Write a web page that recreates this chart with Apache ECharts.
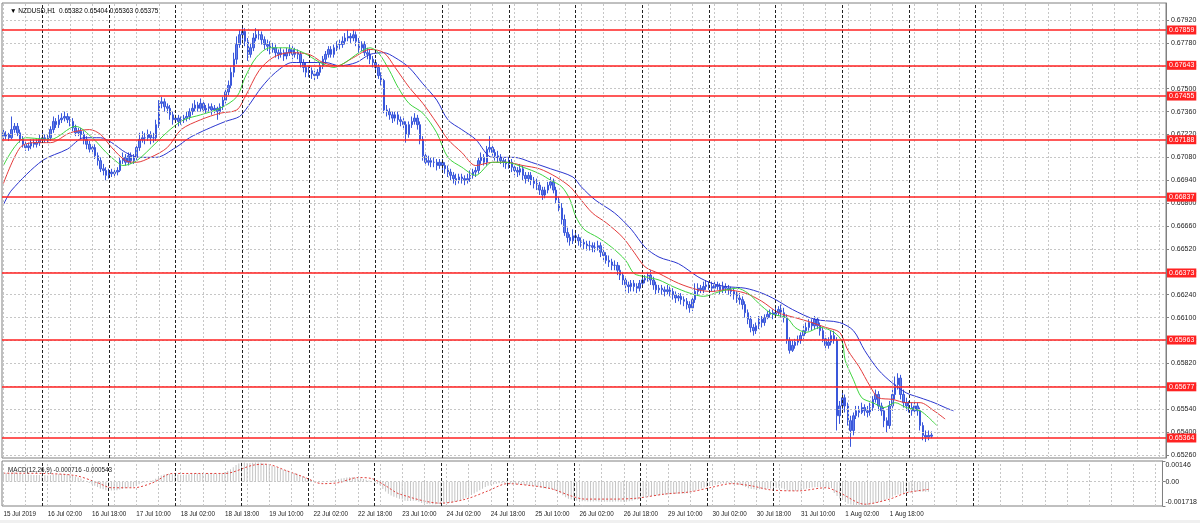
<!DOCTYPE html>
<html><head><meta charset="utf-8">
<script src="https://cdn.jsdelivr.net/npm/echarts@6/dist/echarts.min.js"></script>
<style>html,body{margin:0;padding:0;background:#fff}#c{width:1200px;height:523px}</style>
</head><body><div id="c"></div>
<script>
// ---------- data ----------
const open = [
0.6723,0.6721,0.6722,0.6720,0.6725,0.6727,0.6723,0.6719,0.6716,0.6714,0.6715,0.6717,0.6716,0.6717,0.6719,0.6720,0.6719,0.6720,0.6725,0.6730,
0.6728,0.6731,0.6732,0.6733,0.6731,0.6730,0.6726,0.6723,0.6724,0.6722,0.6719,0.6716,0.6713,0.6714,0.6709,0.6706,0.6701,0.6700,0.6697,0.6699,
0.6698,0.6699,0.6700,0.6706,0.6708,0.6705,0.6709,0.6706,0.6708,0.6714,0.6719,0.6720,0.6720,0.6722,0.6720,0.6720,0.6728,0.6741,0.6742,0.6739,
0.6738,0.6734,0.6731,0.6732,0.6730,0.6731,0.6732,0.6733,0.6736,0.6738,0.6740,0.6738,0.6741,0.6737,0.6738,0.6739,0.6737,0.6738,0.6736,0.6739,
0.6743,0.6748,0.6752,0.6760,0.6768,0.6777,0.6783,0.6785,0.6779,0.6771,0.6775,0.6781,0.6783,0.6783,0.6780,0.6777,0.6776,0.6774,0.6775,0.6772,
0.6771,0.6772,0.6770,0.6772,0.6774,0.6771,0.6772,0.6771,0.6766,0.6763,0.6760,0.6761,0.6759,0.6758,0.6760,0.6764,0.6768,0.6771,0.6774,0.6771,
0.6775,0.6777,0.6777,0.6779,0.6781,0.6782,0.6781,0.6783,0.6779,0.6775,0.6777,0.6772,0.6771,0.6768,0.6766,0.6763,0.6758,0.6755,0.6737,0.6736,
0.6734,0.6732,0.6734,0.6731,0.6730,0.6728,0.6722,0.6728,0.6730,0.6732,0.6728,0.6719,0.6709,0.6705,0.6706,0.6705,0.6705,0.6703,0.6705,0.6703,
0.6701,0.6699,0.6697,0.6695,0.6694,0.6696,0.6695,0.6694,0.6695,0.6697,0.6699,0.6700,0.6706,0.6708,0.6705,0.6713,0.6714,0.6711,0.6709,0.6708,
0.6706,0.6705,0.6704,0.6705,0.6702,0.6700,0.6699,0.6701,0.6697,0.6695,0.6697,0.6694,0.6692,0.6691,0.6688,0.6685,0.6688,0.6691,0.6693,0.6688,
0.6682,0.6677,0.6670,0.6662,0.6659,0.6657,0.6660,0.6659,0.6657,0.6656,0.6655,0.6654,0.6654,0.6653,0.6653,0.6654,0.6650,0.6648,0.6645,0.6644,
0.6642,0.6642,0.6639,0.6636,0.6633,0.6630,0.6629,0.6631,0.6629,0.6628,0.6631,0.6633,0.6634,0.6636,0.6633,0.6630,0.6627,0.6628,0.6627,0.6626,
0.6627,0.6626,0.6624,0.6622,0.6623,0.6621,0.6620,0.6618,0.6616,0.6621,0.6626,0.6628,0.6627,0.6629,0.6630,0.6629,0.6628,0.6630,0.6629,0.6627,
0.6629,0.6628,0.6627,0.6626,0.6624,0.6622,0.6621,0.6618,0.6613,0.6609,0.6604,0.6602,0.6605,0.6609,0.6607,0.6610,0.6612,0.6613,0.6612,0.6613,
0.6615,0.6613,0.6610,0.6596,0.6590,0.6593,0.6595,0.6596,0.6599,0.6602,0.6604,0.6607,0.6605,0.6609,0.6605,0.6602,0.6597,0.6593,0.6595,0.6599,
0.6596,0.6550,0.6556,0.6561,0.6556,0.6547,0.6541,0.6550,0.6553,0.6552,0.6555,0.6553,0.6552,0.6555,0.6560,0.6563,0.6556,0.6553,0.6547,0.6544,
0.6556,0.6563,0.6569,0.6573,0.6563,0.6558,0.6556,0.6555,0.6553,0.6556,0.6553,0.6544,0.6538,0.6537,0.65382];
const close = [
0.6721,0.6722,0.6720,0.6725,0.6727,0.6723,0.6719,0.6716,0.6714,0.6715,0.6717,0.6716,0.6717,0.6719,0.6720,0.6719,0.6720,0.6725,0.6730,0.6728,
0.6731,0.6732,0.6733,0.6731,0.6730,0.6726,0.6723,0.6724,0.6722,0.6719,0.6716,0.6713,0.6714,0.6709,0.6706,0.6701,0.6700,0.6697,0.6699,0.6698,
0.6699,0.6700,0.6706,0.6708,0.6705,0.6709,0.6706,0.6708,0.6714,0.6719,0.6720,0.6720,0.6722,0.6720,0.6720,0.6728,0.6741,0.6742,0.6739,0.6738,
0.6734,0.6731,0.6732,0.6730,0.6731,0.6732,0.6733,0.6736,0.6738,0.6740,0.6738,0.6741,0.6737,0.6738,0.6739,0.6737,0.6738,0.6736,0.6739,0.6743,
0.6748,0.6752,0.6760,0.6768,0.6777,0.6783,0.6785,0.6779,0.6771,0.6775,0.6781,0.6783,0.6783,0.6780,0.6777,0.6776,0.6774,0.6775,0.6772,0.6771,
0.6772,0.6770,0.6772,0.6774,0.6771,0.6772,0.6771,0.6766,0.6763,0.6760,0.6761,0.6759,0.6758,0.6760,0.6764,0.6768,0.6771,0.6774,0.6771,0.6775,
0.6777,0.6777,0.6779,0.6781,0.6782,0.6781,0.6783,0.6779,0.6775,0.6777,0.6772,0.6771,0.6768,0.6766,0.6763,0.6758,0.6755,0.6737,0.6736,0.6734,
0.6732,0.6734,0.6731,0.6730,0.6728,0.6722,0.6728,0.6730,0.6732,0.6728,0.6719,0.6709,0.6705,0.6706,0.6705,0.6705,0.6703,0.6705,0.6703,0.6701,
0.6699,0.6697,0.6695,0.6694,0.6696,0.6695,0.6694,0.6695,0.6697,0.6699,0.6700,0.6706,0.6708,0.6705,0.6713,0.6714,0.6711,0.6709,0.6708,0.6706,
0.6705,0.6704,0.6705,0.6702,0.6700,0.6699,0.6701,0.6697,0.6695,0.6697,0.6694,0.6692,0.6691,0.6688,0.6685,0.6688,0.6691,0.6693,0.6688,0.6682,
0.6677,0.6670,0.6662,0.6659,0.6657,0.6660,0.6659,0.6657,0.6656,0.6655,0.6654,0.6654,0.6653,0.6653,0.6654,0.6650,0.6648,0.6645,0.6644,0.6642,
0.6642,0.6639,0.6636,0.6633,0.6630,0.6629,0.6631,0.6629,0.6628,0.6631,0.6633,0.6634,0.6636,0.6633,0.6630,0.6627,0.6628,0.6627,0.6626,0.6627,
0.6626,0.6624,0.6622,0.6623,0.6621,0.6620,0.6618,0.6616,0.6621,0.6626,0.6628,0.6627,0.6629,0.6630,0.6629,0.6628,0.6630,0.6629,0.6627,0.6629,
0.6628,0.6627,0.6626,0.6624,0.6622,0.6621,0.6618,0.6613,0.6609,0.6604,0.6602,0.6605,0.6609,0.6607,0.6610,0.6612,0.6613,0.6612,0.6613,0.6615,
0.6613,0.6610,0.6596,0.6590,0.6593,0.6595,0.6596,0.6599,0.6602,0.6604,0.6607,0.6605,0.6609,0.6605,0.6602,0.6597,0.6593,0.6595,0.6599,0.6596,
0.6550,0.6556,0.6561,0.6556,0.6547,0.6541,0.6550,0.6553,0.6552,0.6555,0.6553,0.6552,0.6555,0.6560,0.6563,0.6556,0.6553,0.6547,0.6544,0.6556,
0.6563,0.6569,0.6573,0.6563,0.6558,0.6556,0.6555,0.6553,0.6556,0.6553,0.6544,0.6538,0.6537,0.6538,0.65375];
const low = [
0.6719,0.6719,0.6718,0.6719,0.6723,0.6721,0.6717,0.6714,0.6712,0.6712,0.6713,0.6714,0.6714,0.6715,0.6717,0.6717,0.6717,0.6718,0.6723,0.6726,
0.6726,0.6729,0.6730,0.6729,0.6727,0.6724,0.6721,0.6721,0.6719,0.6716,0.6713,0.6711,0.6710,0.6707,0.6703,0.6699,0.6697,0.6694,0.6695,0.6696,
0.6696,0.6697,0.6699,0.6704,0.6703,0.6703,0.6704,0.6704,0.6706,0.6712,0.6717,0.6716,0.6718,0.6716,0.6717,0.6718,0.6726,0.6738,0.6736,0.6735,
0.6731,0.6728,0.6729,0.6727,0.6728,0.6729,0.6730,0.6731,0.6734,0.6736,0.6736,0.6736,0.6735,0.6735,0.6736,0.6734,0.6735,0.6731,0.6734,0.6737,
0.6741,0.6746,0.6750,0.6757,0.6765,0.6775,0.6780,0.6776,0.6767,0.6769,0.6773,0.6779,0.6780,0.6777,0.6774,0.6773,0.6771,0.6772,0.6769,0.6768,
0.6769,0.6767,0.6768,0.6770,0.6768,0.6769,0.6768,0.6763,0.6760,0.6757,0.6757,0.6756,0.6755,0.6756,0.6758,0.6762,0.6766,0.6769,0.6769,0.6769,
0.6773,0.6774,0.6775,0.6777,0.6779,0.6778,0.6779,0.6776,0.6772,0.6773,0.6770,0.6768,0.6765,0.6763,0.6760,0.6756,0.6752,0.6735,0.6733,0.6731,
0.6729,0.6730,0.6728,0.6727,0.6725,0.6717,0.6720,0.6726,0.6728,0.6725,0.6716,0.6706,0.6703,0.6703,0.6702,0.6702,0.6700,0.6701,0.6700,0.6698,
0.6696,0.6694,0.6692,0.6691,0.6692,0.6692,0.6691,0.6692,0.6693,0.6695,0.6696,0.6698,0.6704,0.6703,0.6703,0.6711,0.6709,0.6706,0.6705,0.6704,
0.6702,0.6701,0.6701,0.6699,0.6697,0.6696,0.6697,0.6694,0.6692,0.6693,0.6691,0.6689,0.6688,0.6685,0.6682,0.6683,0.6686,0.6689,0.6686,0.6680,
0.6675,0.6667,0.6660,0.6656,0.6654,0.6655,0.6656,0.6654,0.6653,0.6652,0.6651,0.6651,0.6650,0.6650,0.6651,0.6647,0.6645,0.6643,0.6641,0.6639,
0.6639,0.6636,0.6633,0.6630,0.6626,0.6625,0.6626,0.6626,0.6625,0.6626,0.6629,0.6631,0.6632,0.6630,0.6627,0.6624,0.6625,0.6624,0.6623,0.6624,
0.6623,0.6621,0.6619,0.6620,0.6618,0.6617,0.6615,0.6613,0.6614,0.6619,0.6624,0.6625,0.6625,0.6627,0.6627,0.6626,0.6626,0.6627,0.6624,0.6625,
0.6625,0.6624,0.6623,0.6621,0.6619,0.6618,0.6615,0.6610,0.6606,0.6601,0.6599,0.6600,0.6603,0.6604,0.6605,0.6609,0.6610,0.6609,0.6610,0.6611,
0.6610,0.6607,0.6594,0.6588,0.6589,0.6591,0.6593,0.6594,0.6597,0.6600,0.6602,0.6602,0.6603,0.6603,0.6599,0.6595,0.6590,0.6591,0.6593,0.6594,
0.6541,0.6545,0.6553,0.6552,0.6544,0.6531,0.6538,0.6548,0.6549,0.6551,0.6550,0.6549,0.6550,0.6553,0.6558,0.6553,0.6550,0.6543,0.6540,0.6542,
0.6553,0.6560,0.6566,0.6560,0.6555,0.6553,0.6552,0.6550,0.6551,0.6550,0.6541,0.6535,0.6534,0.6535,0.65363];
const high = [
0.6725,0.6724,0.6723,0.6733,0.6729,0.6729,0.6725,0.6721,0.6718,0.6717,0.6719,0.6719,0.6719,0.6722,0.6724,0.6722,0.6722,0.6727,0.6733,0.6732,
0.6734,0.6735,0.6736,0.6735,0.6733,0.6732,0.6728,0.6726,0.6726,0.6724,0.6721,0.6718,0.6716,0.6716,0.6711,0.6708,0.6704,0.6702,0.6701,0.6701,
0.6701,0.6702,0.6708,0.6711,0.6710,0.6711,0.6711,0.6710,0.6716,0.6723,0.6724,0.6723,0.6725,0.6724,0.6723,0.6731,0.6743,0.6745,0.6744,0.6741,
0.6740,0.6736,0.6734,0.6734,0.6733,0.6734,0.6736,0.6738,0.6741,0.6743,0.6742,0.6744,0.6743,0.6740,0.6741,0.6741,0.6740,0.6739,0.6741,0.6745,
0.6750,0.6755,0.6763,0.6772,0.6782,0.6786,0.6789,0.6787,0.6781,0.6778,0.6784,0.6787,0.6786,0.6785,0.6782,0.6780,0.6779,0.6778,0.6777,0.6774,
0.6775,0.6774,0.6775,0.6777,0.6776,0.6775,0.6774,0.6773,0.6768,0.6766,0.6764,0.6763,0.6761,0.6762,0.6766,0.6770,0.6773,0.6776,0.6776,0.6777,
0.6779,0.6780,0.6782,0.6784,0.6786,0.6784,0.6786,0.6785,0.6781,0.6779,0.6779,0.6775,0.6774,0.6770,0.6768,0.6765,0.6760,0.6756,0.6740,0.6738,
0.6736,0.6736,0.6736,0.6733,0.6732,0.6730,0.6730,0.6733,0.6735,0.6734,0.6730,0.6721,0.6711,0.6709,0.6708,0.6708,0.6707,0.6707,0.6707,0.6705,
0.6703,0.6701,0.6699,0.6698,0.6698,0.6698,0.6697,0.6698,0.6700,0.6701,0.6702,0.6708,0.6711,0.6710,0.6715,0.6721,0.6716,0.6713,0.6712,0.6710,
0.6708,0.6707,0.6708,0.6707,0.6704,0.6702,0.6704,0.6703,0.6699,0.6699,0.6699,0.6696,0.6695,0.6693,0.6690,0.6690,0.6693,0.6696,0.6695,0.6690,
0.6684,0.6680,0.6673,0.6665,0.6661,0.6664,0.6662,0.6661,0.6659,0.6658,0.6657,0.6657,0.6656,0.6656,0.6657,0.6656,0.6653,0.6650,0.6648,0.6646,
0.6645,0.6644,0.6642,0.6638,0.6635,0.6632,0.6633,0.6633,0.6631,0.6633,0.6636,0.6636,0.6638,0.6639,0.6635,0.6632,0.6630,0.6630,0.6629,0.6630,
0.6629,0.6628,0.6626,0.6625,0.6625,0.6623,0.6622,0.6620,0.6623,0.6631,0.6631,0.6630,0.6632,0.6633,0.6632,0.6632,0.6633,0.6632,0.6631,0.6632,
0.6631,0.6630,0.6629,0.6628,0.6626,0.6625,0.6623,0.6620,0.6615,0.6611,0.6606,0.6607,0.6611,0.6611,0.6612,0.6614,0.6615,0.6615,0.6616,0.6617,
0.6618,0.6616,0.6612,0.6598,0.6596,0.6597,0.6599,0.6601,0.6605,0.6607,0.6609,0.6609,0.6611,0.6610,0.6607,0.6604,0.6599,0.6598,0.6602,0.6602,
0.6598,0.6559,0.6564,0.6563,0.6558,0.6550,0.6552,0.6556,0.6556,0.6558,0.6557,0.6556,0.6558,0.6562,0.6566,0.6565,0.6558,0.6555,0.6549,0.6559,
0.6566,0.6574,0.6576,0.6575,0.6566,0.6561,0.6559,0.6558,0.6559,0.6558,0.6555,0.6546,0.6541,0.6541,0.65404];

// moving averages, read as [bar index, price]
const maFast = [[0,0.6703],[8,0.6720],[17,0.6719],[26,0.6727],[32,0.6720],[37,0.6711],[41,0.6705],[43,0.6703],[48,0.6706],[55,0.6717],[60,0.6725],[65,0.6731],[71,0.6734],[78,0.6738],[84,0.6745],[87,0.6757],[91,0.6769],[96,0.6775],[102,0.6775],[108,0.6772],[114,0.6766],[119,0.6763],[123,0.6766],[128,0.6772],[132,0.6775],[135,0.6772],[139,0.6761],[142,0.6751],[146,0.6741],[151,0.6735],[156,0.6723],[160,0.6708],[165,0.6702],[170,0.6697],[176,0.6705],[181,0.6705],[187,0.6702],[193,0.6698],[197,0.6694],[201,0.6690],[204,0.6682],[206,0.6672],[209,0.6664],[214,0.6659],[219,0.6653],[224,0.6645],[227,0.6637],[231,0.6635],[236,0.6633],[241,0.6629],[247,0.6625],[252,0.6623],[258,0.6626],[264,0.6628],[268,0.6625],[273,0.6617],[277,0.6612],[282,0.6610],[285,0.6604],[289,0.6601],[294,0.6604],[299,0.6601],[302,0.6595],[303,0.6584],[306,0.6572],[309,0.6561],[313,0.6558],[317,0.6555],[321,0.6558],[325,0.6555],[330,0.6553],[333,0.6549],[336,0.6544]];
const maMid = [[0,0.6692],[6,0.6714],[11,0.6717],[17,0.6717],[24,0.6723],[31,0.6725],[35,0.6722],[39,0.6714],[44,0.6706],[48,0.6705],[53,0.6708],[59,0.6714],[64,0.6725],[71,0.6731],[78,0.6735],[84,0.6737],[87,0.6745],[92,0.6761],[97,0.6769],[103,0.6772],[110,0.6771],[115,0.6766],[120,0.6764],[126,0.6769],[132,0.6774],[137,0.6772],[141,0.6763],[146,0.6751],[151,0.6741],[156,0.6729],[160,0.6719],[165,0.6711],[170,0.6703],[176,0.6705],[181,0.6705],[187,0.6703],[193,0.6701],[199,0.6696],[204,0.6690],[207,0.6684],[212,0.6674],[217,0.6668],[223,0.6659],[227,0.6650],[231,0.6641],[236,0.6637],[243,0.6631],[250,0.6627],[255,0.6626],[260,0.6627],[267,0.6625],[273,0.6620],[279,0.6613],[285,0.6610],[291,0.6607],[296,0.6604],[301,0.6601],[304,0.6590],[308,0.6580],[312,0.6568],[315,0.6561],[320,0.6560],[325,0.6558],[330,0.6558],[335,0.6553],[339,0.6548]];
const maSlow = [[0,0.6679],[3,0.6688],[14,0.6706],[23,0.6713],[29,0.6720],[35,0.6720],[39,0.6717],[44,0.6711],[49,0.6708],[55,0.6708],[62,0.6714],[67,0.6720],[73,0.6725],[80,0.6730],[85,0.6733],[88,0.6739],[93,0.6751],[98,0.6760],[104,0.6766],[110,0.6766],[116,0.6766],[121,0.6764],[127,0.6766],[132,0.6771],[137,0.6772],[141,0.6769],[146,0.6763],[151,0.6753],[156,0.6743],[160,0.6731],[165,0.6725],[170,0.6719],[176,0.6708],[184,0.6708],[190,0.6705],[197,0.6701],[205,0.6696],[208,0.6690],[213,0.6682],[220,0.6674],[226,0.6664],[231,0.6653],[236,0.6647],[243,0.6643],[250,0.6635],[255,0.6631],[260,0.6629],[267,0.6628],[273,0.6625],[278,0.6621],[284,0.6615],[292,0.6609],[301,0.6607],[306,0.6602],[310,0.6590],[315,0.6578],[320,0.6570],[325,0.6564],[330,0.6561],[335,0.6558],[339,0.6555],[342,0.6553]];

// MACD histogram (one value per bar) and signal line samples [bar index, value]
const macdMain = [
0.00060,0.00062,0.00061,0.00063,0.00064,0.00062,0.00058,0.00055,0.00052,0.00050,0.00049,0.00048,0.00047,0.00047,0.00046,0.00045,0.00044,0.00046,0.00050,0.00052,
0.00054,0.00055,0.00055,0.00053,0.00050,0.00044,0.00036,0.00030,0.00022,0.00012,0.00002,-0.00010,-0.00018,-0.00028,-0.00038,-0.00048,-0.00054,-0.00060,-0.00062,-0.00063,
-0.00062,-0.00060,-0.00055,-0.00050,-0.00046,-0.00042,-0.00040,-0.00036,-0.00028,-0.00018,-0.00010,-0.00004,0.00002,0.00006,0.00010,0.00020,0.00034,0.00044,0.00050,0.00054,
0.00054,0.00052,0.00051,0.00050,0.00049,0.00049,0.00050,0.00052,0.00054,0.00057,0.00058,0.00060,0.00058,0.00058,0.00058,0.00057,0.00057,0.00055,0.00056,0.00060,
0.00068,0.00076,0.00088,0.00102,0.00118,0.00128,0.00136,0.00136,0.00132,0.00131,0.00133,0.00135,0.00135,0.00133,0.00129,0.00124,0.00118,0.00112,0.00106,0.00098,
0.00092,0.00085,0.00080,0.00074,0.00068,0.00062,0.00056,0.00048,0.00038,0.00028,0.00020,0.00012,0.00004,-0.00002,-0.00004,-0.00004,-0.00002,0.00003,0.00006,0.00010,
0.00014,0.00018,0.00022,0.00026,0.00030,0.00031,0.00032,0.00028,0.00024,0.00022,0.00018,0.00014,0.00008,0.00002,-0.00006,-0.00016,-0.00026,-0.00052,-0.00070,-0.00086,
-0.00098,-0.00106,-0.00114,-0.00120,-0.00126,-0.00134,-0.00136,-0.00136,-0.00134,-0.00136,-0.00142,-0.00150,-0.00156,-0.00158,-0.00160,-0.00160,-0.00159,-0.00158,-0.00156,-0.00154,
-0.00152,-0.00150,-0.00147,-0.00142,-0.00136,-0.00130,-0.00122,-0.00114,-0.00104,-0.00094,-0.00084,-0.00072,-0.00060,-0.00050,-0.00038,-0.00028,-0.00022,-0.00018,-0.00014,-0.00012,
-0.00012,-0.00012,-0.00013,-0.00014,-0.00016,-0.00018,-0.00018,-0.00020,-0.00022,-0.00024,-0.00026,-0.00029,-0.00032,-0.00036,-0.00042,-0.00046,-0.00048,-0.00048,-0.00052,-0.00060,
-0.00070,-0.00082,-0.00096,-0.00110,-0.00120,-0.00126,-0.00130,-0.00134,-0.00136,-0.00138,-0.00139,-0.00140,-0.00140,-0.00140,-0.00139,-0.00140,-0.00141,-0.00142,-0.00142,-0.00142,
-0.00141,-0.00140,-0.00140,-0.00141,-0.00142,-0.00141,-0.00138,-0.00134,-0.00130,-0.00126,-0.00120,-0.00114,-0.00108,-0.00104,-0.00102,-0.00100,-0.00098,-0.00096,-0.00094,-0.00092,
-0.00090,-0.00088,-0.00087,-0.00086,-0.00085,-0.00084,-0.00083,-0.00082,-0.00076,-0.00068,-0.00060,-0.00054,-0.00048,-0.00042,-0.00036,-0.00030,-0.00026,-0.00022,-0.00018,-0.00014,
-0.00012,-0.00012,-0.00013,-0.00015,-0.00017,-0.00020,-0.00024,-0.00030,-0.00038,-0.00046,-0.00052,-0.00054,-0.00054,-0.00054,-0.00053,-0.00052,-0.00050,-0.00048,-0.00046,-0.00044,
-0.00044,-0.00046,-0.00054,-0.00062,-0.00066,-0.00066,-0.00064,-0.00062,-0.00058,-0.00054,-0.00050,-0.00046,-0.00042,-0.00040,-0.00040,-0.00040,-0.00041,-0.00042,-0.00042,-0.00044,
-0.00080,-0.00102,-0.00118,-0.00130,-0.00142,-0.00156,-0.00162,-0.00166,-0.00170,-0.00172,-0.00172,-0.00170,-0.00166,-0.00160,-0.00154,-0.00150,-0.00144,-0.00138,-0.00132,-0.00124,
-0.00116,-0.00106,-0.00096,-0.00090,-0.00086,-0.00082,-0.00080,-0.00076,-0.00072,-0.00070,-0.00070,-0.00071,-0.00072,-0.00072,-0.000716];
const macdSignal = [[0,0.00060],[14,0.00058],[26,0.00043],[34,-0.00007],[39,-0.00043],[47,-0.00043],[54,-0.00007],[61,0.00058],[71,0.00058],[80,0.00058],[90,0.00116],[95,0.00123],[102,0.00079],[109,0.00029],[115,-0.00014],[121,-0.00007],[128,0.00029],[133,0.00022],[138,-0.00029],[143,-0.00087],[158,-0.00152],[167,-0.00123],[175,-0.00065],[182,-0.00014],[191,-0.00029],[198,-0.00051],[205,-0.00101],[210,-0.00123],[221,-0.00123],[229,-0.00116],[239,-0.00087],[248,-0.00072],[255,-0.00043],[263,-0.00014],[270,-0.00029],[277,-0.00058],[287,-0.00065],[297,-0.00043],[302,-0.00079],[311,-0.00159],[320,-0.00123],[326,-0.00079],[334,-0.000543]];

const levels = [0.67859,0.67643,0.67455,0.67188,0.66837,0.66373,0.65963,0.65677,0.65364];
const priceTicks = [0.65260,0.65400,0.65540,0.65680,0.65820,0.65960,0.66100,0.66240,0.66380,0.66520,0.66660,0.66800,0.66940,0.67080,0.67220,0.67360,0.67500,0.67640,0.67780,0.67920];
const macdTicks = [0.00146,0,-0.001718];
const macdTickLabels = ['0.00146','0.00','-0.001718'];
const xTickLabels = ['15 Jul 2019','16 Jul 02:00','16 Jul 18:00','17 Jul 10:00','18 Jul 02:00','18 Jul 18:00','19 Jul 10:00','22 Jul 02:00','22 Jul 18:00','23 Jul 10:00','24 Jul 02:00','24 Jul 18:00','25 Jul 10:00','26 Jul 02:00','26 Jul 18:00','29 Jul 10:00','30 Jul 02:00','30 Jul 18:00','31 Jul 10:00','1 Aug 02:00','1 Aug 18:00'];
const daySeparators = ['16 Jul 00:00','17 Jul 00:00','18 Jul 00:00','19 Jul 00:00','22 Jul 00:00','23 Jul 00:00','24 Jul 00:00','25 Jul 00:00','26 Jul 00:00','29 Jul 00:00','30 Jul 00:00','31 Jul 00:00','1 Aug 00:00','2 Aug 00:00','5 Aug 00:00'];
const headerText = '\u25BC NZDUSD,H1  0.65382 0.65404 0.65363 0.65375';
const macdText = 'MACD(12,26,9) -0.000716 -0.000543';

// ---------- hourly categories (trading hours, weekends skipped) ----------
const MON = ['Jan','Feb','Mar','Apr','May','Jun','Jul','Aug','Sep','Oct','Nov','Dec'];
const SLOTS = 419, LABEL_STEP = 16, GRID_STEP = 8;
const categories = [];
for (let t = Date.UTC(2019,6,15,10); categories.length < SLOTS; t += 3600000) {
  const d = new Date(t), wd = d.getUTCDay();
  if (wd === 0 || wd === 6) continue;
  categories.push(d.getUTCDate() + ' ' + MON[d.getUTCMonth()] + ' ' + String(d.getUTCHours()).padStart(2,'0') + ':00');
}
const kData = open.map((o,i) => [o, close[i], low[i], high[i]]);

const FONT = 'Liberation Sans, Arial, sans-serif';
const GRID_C = '#c6c6c6';
const LEVEL_C = '#ff2222';
const vGrid = [];
for (let i = 0; i < categories.length; i += GRID_STEP) vGrid.push({xAxis: i, lineStyle:{color:GRID_C, type:[2,2], width:1}});
const sepLines = daySeparators.map(s => ({xAxis: categories.indexOf(s), lineStyle:{color:'#222', type:[3,2], width:1}}));
const hGridMain = priceTicks.map(v => ({yAxis: v, lineStyle:{color:GRID_C, type:[2,2], width:1}}));
const hGridMacd = [{yAxis: 0, lineStyle:{color:GRID_C, type:[2,2], width:1}}];

const chart = echarts.init(document.getElementById('c'), null, {renderer:'canvas'});
chart.setOption({
  animation:false,
  backgroundColor:'#fff',
  textStyle:{fontFamily:FONT},
  title:[
    {text:headerText, left:5, top:3, textStyle:{fontSize:6.5, fontWeight:'normal', color:'#000', fontFamily:FONT}},
    {text:macdText, left:3, top:462, textStyle:{fontSize:6.3, fontWeight:'normal', color:'#222', fontFamily:FONT}}
  ],
  graphic:[{type:'rect', left:0, top:520, shape:{width:1200, height:3}, style:{fill:'#f0f0f0'}, z:-1}],
  grid:[
    {left:2, top:3, width:1164, height:455, show:true, borderColor:'#808080', borderWidth:1},
    {left:2, top:461, width:1164, height:45, show:true, borderColor:'#808080', borderWidth:1}
  ],
  xAxis:[
    {type:'category', gridIndex:0, data:categories, boundaryGap:true, axisLine:{show:false}, axisTick:{show:false}, axisLabel:{show:false}, splitLine:{show:false}},
    {type:'category', gridIndex:1, data:categories, boundaryGap:true, axisLine:{show:false}, axisTick:{show:false}, splitLine:{show:false},
     axisLabel:{show:true, interval:(i) => i % LABEL_STEP === 0 && i / LABEL_STEP < xTickLabels.length,
       formatter:(v,i) => xTickLabels[i / LABEL_STEP] || '', align:'left', margin:5, fontSize:6.3, color:'#222', fontFamily:FONT}}
  ],
  yAxis:[
    {type:'value', gridIndex:0, position:'right', min:0.652416, max:0.68024, scale:true,
     axisLine:{show:true, lineStyle:{color:'#808080'}},
     axisTick:{show:true, length:3, customValues:priceTicks, lineStyle:{color:'#808080'}},
     axisLabel:{show:true, customValues:priceTicks, formatter:(v) => v.toFixed(5), margin:5, fontSize:7, color:'#222', fontFamily:FONT},
     splitLine:{show:false}},
    {type:'value', gridIndex:1, position:'right', min:-0.001718, max:0.00146,
     axisLine:{show:true, lineStyle:{color:'#808080'}},
     axisTick:{show:true, length:3, customValues:macdTicks, lineStyle:{color:'#808080'}},
     axisLabel:{show:true, customValues:macdTicks, margin:3, fontSize:7, color:'#222', fontFamily:FONT,
       formatter:(v) => { const k = macdTicks.findIndex(t => Math.abs(t - v) < 1e-9); return k === 0 ? '{a|' + macdTickLabels[0] + '}' : k === 2 ? '{b|' + macdTickLabels[2] + '}' : macdTickLabels[1]; },
       rich:{a:{fontSize:7, color:'#222', padding:[8,0,0,0], fontFamily:FONT}, b:{fontSize:7, color:'#222', padding:[0,0,8,0], fontFamily:FONT}}},
     splitLine:{show:false}}
  ],
  series:[
    {type:'line', xAxisIndex:0, yAxisIndex:0, data:[], z:1, silent:true,
     markLine:{silent:true, precision:6, symbol:['none','none'], label:{show:false}, animation:false, emphasis:{disabled:true}, data:[...vGrid, ...hGridMain, ...sepLines]}},
    {type:'line', xAxisIndex:1, yAxisIndex:1, data:[], z:1, silent:true,
     markLine:{silent:true, precision:6, symbol:['none','none'], label:{show:false}, animation:false, emphasis:{disabled:true}, data:[...vGrid, ...hGridMacd, ...sepLines]}},
    {type:'candlestick', xAxisIndex:0, yAxisIndex:0, data:kData, z:2, barWidth:2,
     itemStyle:{color:'#6580ea', color0:'#6580ea', borderColor:'#3a57da', borderColor0:'#3a57da', borderWidth:1},
     markLine:{silent:true, precision:6, symbol:['none','none'], animation:false, emphasis:{disabled:true},
       lineStyle:{color:LEVEL_C, type:'solid', width:1.5},
       label:{show:true, position:'end', distance:1, formatter:(p) => Number(p.value).toFixed(5), color:'#fff', backgroundColor:LEVEL_C, padding:[1,2,1,2], fontSize:7, fontFamily:FONT},
       data:levels.map(v => ({yAxis:v, lineStyle:{color:LEVEL_C, type:'solid', width:1.5}}))}},
    {type:'line', xAxisIndex:0, yAxisIndex:0, data:maSlow, showSymbol:false, smooth:0.3, z:3, lineStyle:{color:'#2b36cf', width:1}},
    {type:'line', xAxisIndex:0, yAxisIndex:0, data:maMid, showSymbol:false, smooth:0.3, z:3, lineStyle:{color:'#e43b3b', width:1}},
    {type:'line', xAxisIndex:0, yAxisIndex:0, data:maFast, showSymbol:false, smooth:0.3, z:3, lineStyle:{color:'#3fd43f', width:1}},
    {type:'bar', xAxisIndex:1, yAxisIndex:1, data:macdMain, barWidth:1, z:2, itemStyle:{color:'#c4c4c4'}},
    {type:'line', xAxisIndex:1, yAxisIndex:1, data:macdSignal, showSymbol:false, smooth:0.3, z:3, lineStyle:{color:'#e0403c', width:1, type:[2,2]}}
  ]
});
</script></body></html>
